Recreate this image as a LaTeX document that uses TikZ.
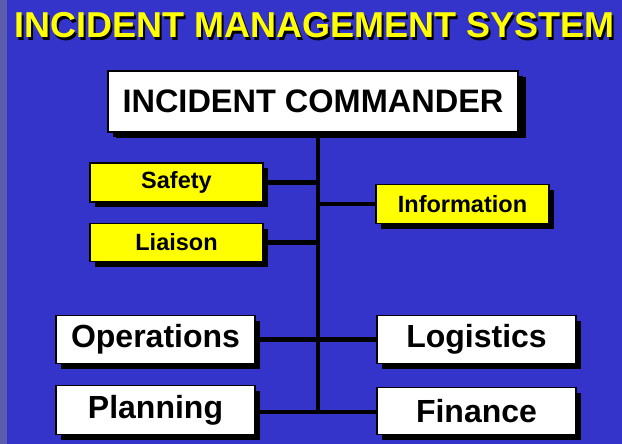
\documentclass[tikz,border=0pt]{standalone}
\usepackage{fontspec}
\setmainfont{Liberation Sans}
\usetikzlibrary{shadows}
\definecolor{bgblue}{RGB}{52,52,202}
\definecolor{stripblue}{RGB}{92,92,172}
\definecolor{boxyellow}{RGB}{255,255,0}
\newcommand{\shadowtext}[1]{\makebox[0pt][l]{\kern2pt\raisebox{-2pt}{\color{black}#1}}#1}
\begin{document}
\begin{tikzpicture}[x=1pt,y=-1pt,
  box/.style={draw=black, line width=1.6pt, inner sep=0pt, align=center,
    font=\bfseries, text=black,
    drop shadow={shadow xshift=5pt, shadow yshift=-5pt, opacity=1, fill=black}},
  whitebox/.style={box, fill=white, minimum width=199pt, minimum height=48pt, font=\fontsize{32}{36}\selectfont\bfseries},
  yellowbox/.style={box, fill=boxyellow, minimum width=173pt, minimum height=39pt, font=\fontsize{23.5}{26}\selectfont\bfseries},
  conn/.style={draw=black, line width=4.6pt}]
\useasboundingbox (0,0) rectangle (622,444);
\fill[bgblue] (0,0) rectangle (622,444);
\fill[stripblue] (0,0) rectangle (7,444);
% title
\node[anchor=base, text=boxyellow, font=\fontsize{36}{40}\selectfont\bfseries] (title) at (314.5,38) {\shadowtext{INCIDENT MANAGEMENT SYSTEM}};
% trunk
\coordinate (trunktop) at (318,132);
\coordinate (trunkbot) at (318,412);
\node[yellowbox, minimum height=39pt] (safety) at (176.5,182.5) {Safety};
\node[yellowbox, minimum height=38pt] (liaison) at (176.5,242.5) {Liaison};
\node[yellowbox, minimum height=39pt] (info) at (462.5,204) {Information};
\node[whitebox] (ops) at (155.5,339.5) {Operations};
\node[whitebox, minimum height=49pt] (plan) at (155.5,410) {Planning};
\node[whitebox] (log) at (476.5,339.5) {Logistics};
\node[whitebox, minimum height=47pt] (fin) at (476.5,411) {Finance};
\draw[conn] (trunktop) -- (trunkbot);
\draw[conn] (safety.east) -- (safety.east -| trunktop);
\draw[conn] (liaison.east) -- (liaison.east -| trunktop);
\draw[conn] (info.west) -- (info.west -| trunktop);
\draw[conn] (ops.east) -- (log.west);
\draw[conn] (plan.east |- trunkbot) -- (fin.west |- trunkbot);
\node[box, fill=white, minimum width=410pt, minimum height=61pt,
  drop shadow={shadow xshift=8pt, shadow yshift=-6pt, opacity=1, fill=black},
  font=\fontsize{32.5}{36}\selectfont\bfseries] (cmd) at (313,101.5) {INCIDENT COMMANDER};
\end{tikzpicture}
\end{document}
